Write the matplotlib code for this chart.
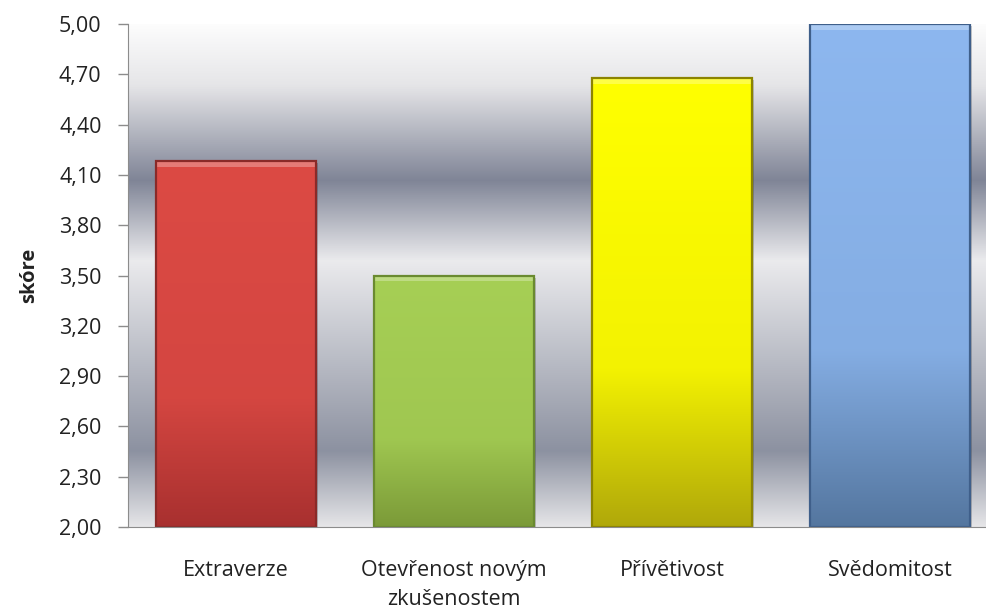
import numpy as np
import matplotlib
matplotlib.use("Agg")
import matplotlib.pyplot as plt
from matplotlib.ticker import FixedLocator, FuncFormatter
from matplotlib.colors import LinearSegmentedColormap, to_rgb

categories = ["Extraverze", "Otevřenost novým\nzkušenostem", "Přívětivost", "Svědomitost"]
scores = [4.18, 3.50, 4.68, 5.00]
y_ticks = [2.00, 2.30, 2.60, 2.90, 3.20, 3.50, 3.80, 4.10, 4.40, 4.70, 5.00]

# (top colour, bottom colour, edge colour) for each bar
bar_styles = [
    ("#dc4a44", "#a8302f", "#8a2a28"),
    ("#a6cf55", "#7b9a38", "#6a8a30"),
    ("#ffff00", "#b0a80a", "#8c8400"),
    ("#8db7ef", "#54769f", "#3f5f8a"),
]

plt.rcParams["font.family"] = ["Open Sans", "DejaVu Sans"]

fig = plt.figure(figsize=(9.86, 6.09), dpi=100)
ax = fig.add_axes([128 / 986, 1 - 527 / 609, 1 - 128 / 986, (527 - 24) / 609])

ax.set_ylim(2.0, 5.0)
ax.set_xlim(-0.495, 3.44)

# banded grey background of the plot area
stops = [(0.00, (0.90, 0.90, 0.91)),
         (0.15, (0.55, 0.57, 0.63)),
         (0.53, (0.92, 0.92, 0.93)),
         (0.69, (0.50, 0.52, 0.59)),
         (0.88, (0.90, 0.90, 0.91)),
         (1.00, (0.99, 0.99, 0.99))]
bg_cmap = LinearSegmentedColormap.from_list("bands", stops)
grad = np.linspace(0, 1, 512).reshape(-1, 1)
ax.imshow(grad, cmap=bg_cmap, extent=[0, 1, 0, 1], transform=ax.transAxes,
          aspect="auto", origin="lower", zorder=0, interpolation="bicubic")

x = np.arange(len(categories))
width = 0.735
bars = ax.bar(x, [s - 2.0 for s in scores], bottom=2.0, width=width,
              color="none", edgecolor="none", zorder=2)

for rect, (top_c, bot_c, edge_c) in zip(bars, bar_styles):
    x0, y0 = rect.get_x(), rect.get_y()
    w, h = rect.get_width(), rect.get_height()
    # soft shadow beneath the bar
    ax.add_patch(plt.Rectangle((x0 + 0.01, y0 - 0.012), w, h, facecolor="black",
                               alpha=0.18, edgecolor="none", zorder=1.5))
    t, b = np.array(to_rgb(top_c)), np.array(to_rgb(bot_c))
    mid = t * 0.85 + b * 0.15
    cmap = LinearSegmentedColormap.from_list(
        "bar", [(0.0, b), (0.35, mid), (1.0, t)])
    img = ax.imshow(np.linspace(0, 1, 256).reshape(-1, 1), cmap=cmap,
                    extent=[x0, x0 + w, y0, y0 + h], aspect="auto",
                    origin="lower", zorder=2.1, interpolation="bicubic")
    img.set_clip_path(rect)
    # bevel highlight along the top and darker sides
    ax.add_patch(plt.Rectangle((x0, y0 + h - 0.035), w, 0.035, facecolor="white",
                               alpha=0.28, edgecolor="none", zorder=2.2))
    ax.add_patch(plt.Rectangle((x0, y0), w, h, facecolor="none",
                               edgecolor=edge_c, linewidth=1.6, zorder=2.3))

ax.yaxis.set_major_locator(FixedLocator(y_ticks))
ax.yaxis.set_major_formatter(FuncFormatter(lambda v, p: f"{v:.2f}".replace(".", ",")))
ax.set_xticks(x)
ax.set_xticklabels(categories, fontsize=15.5, color="#222222", linespacing=1.45)
ax.tick_params(axis="x", length=0, pad=24)
ax.tick_params(axis="y", length=7, width=1, color="#8c8c8c", labelsize=15.5,
               labelcolor="#222222", pad=12, direction="out")

for side in ("top", "right"):
    ax.spines[side].set_visible(False)
ax.spines["left"].set_color("#8c8c8c")
ax.spines["bottom"].set_color("#8c8c8c")
ax.spines["left"].set_zorder(3)
ax.spines["bottom"].set_zorder(3)

ax.set_ylabel("skóre", fontsize=14.5, fontweight="bold", color="#222222", labelpad=14)

fig.savefig("out.png", dpi=100)
